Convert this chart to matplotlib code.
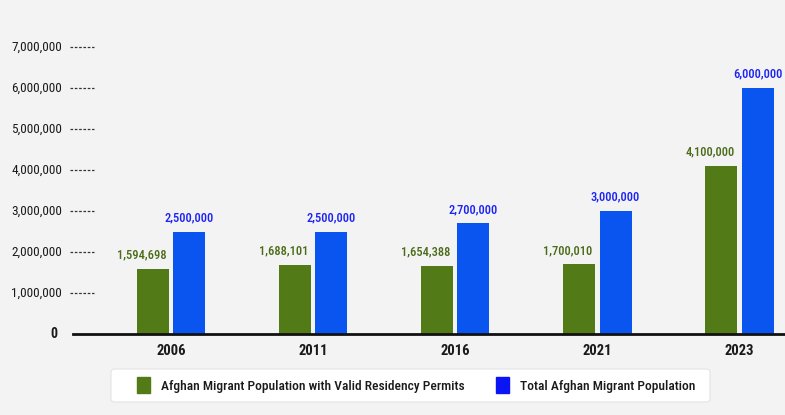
import numpy as np
import matplotlib
matplotlib.use('Agg')
import matplotlib.pyplot as plt
import matplotlib.transforms as mtransforms
from matplotlib.patches import Patch, FancyBboxPatch

plt.rcParams['font.family'] = ['Roboto Condensed', 'DejaVu Sans']

# データ
years = ['2006', '2011', '2016', '2021', '2023']
permit_pop = [1594698, 1688101, 1654388, 1700010, 4100000]
total_pop = [2500000, 2500000, 2700000, 3000000, 6000000]
y_ticks = [0, 1000000, 2000000, 3000000, 4000000, 5000000, 6000000, 7000000]
series_names = ['Afghan Migrant Population with Valid Residency Permits',
                'Total Afghan Migrant Population']

green = '#527a17'
blue = '#0a55f0'
bg = '#f3f3f3'

fig = plt.figure(figsize=(7.85, 4.15), dpi=100, facecolor=bg)
ax = fig.add_axes([73 / 785, 81 / 415, 712 / 785, 307.5 / 415])
ax.set_facecolor(bg)

x = np.arange(len(years))
w = 0.225
off = 0.128
ax.bar(x - off, permit_pop, width=w, color=green)
ax.bar(x + off, total_pop, width=w, color=blue)

# 値ラベル
for i in range(len(years)):
    ax.text(x[i] - off - 0.08, permit_pop[i] + 180000, f'{permit_pop[i]:,}',
            ha='center', va='bottom', color='#4a6b18', fontsize=9, fontweight='medium')
    ax.text(x[i] + off, total_pop[i] + 180000, f'{total_pop[i]:,}',
            ha='center', va='bottom', color='#1a22f5', fontsize=9, fontweight='medium')

ax.set_xlim(-0.69, 4.32)
ax.set_ylim(0, 7500000)

# 軸
for s in ['top', 'right', 'left']:
    ax.spines[s].set_visible(False)
ax.spines['bottom'].set_linewidth(2)
ax.spines['bottom'].set_color('#111111')
ax.set_yticks([])
ax.set_xticks(x)
ax.set_xticklabels(years, fontsize=10.5, fontweight='bold', color='#1a1a1a')
ax.tick_params(axis='x', length=0, pad=7)

# y軸ラベル(破線付き)
trans = mtransforms.blended_transform_factory(ax.transAxes, ax.transData)
for v in y_ticks:
    if v == 0:
        ax.text(-0.022, v, '0', transform=trans, ha='right', va='center',
                fontsize=10, fontweight='bold', color='#1a1a1a')
    else:
        ax.text(-0.0155, v, f'{v:,}', transform=trans, ha='right', va='center',
                fontsize=9.5, color='#1a1a1a')
        ax.plot([-0.004, 0.029], [v, v], transform=trans, clip_on=False,
                color='#333333', lw=0.9, linestyle=(0, (2.1, 1.35)))

# 凡例
box = FancyBboxPatch((111 / 785, 13 / 415), 599 / 785, 33 / 415,
                     boxstyle='round,pad=0,rounding_size=0.006',
                     transform=fig.transFigure, facecolor='white',
                     edgecolor='#e4e4e4', lw=0.8, zorder=1)
fig.patches.append(box)
handles = [Patch(facecolor=green, edgecolor=green), Patch(facecolor='#0a14f5', edgecolor='#0a14f5')]
leg = fig.legend(handles, series_names, loc='center', bbox_to_anchor=(416 / 785, 0.072),
                 ncol=2, frameon=False, fontsize=9.7,
                 handlelength=1.0, handleheight=1.45, columnspacing=2.3,
                 borderpad=0.0, handletextpad=0.8, borderaxespad=0)
leg.set_zorder(3)
for t in leg.get_texts():
    t.set_fontweight('medium')
    t.set_color('#1a1a1a')

plt.savefig('out.png', dpi=100, facecolor=bg)
